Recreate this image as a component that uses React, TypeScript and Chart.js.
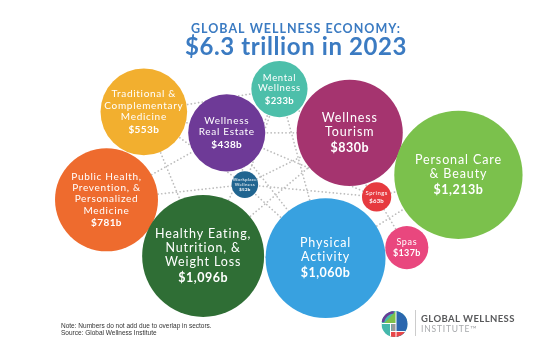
import React, { useEffect, useRef } from "react";
import { Chart, registerables } from "chart.js";

Chart.register(...registerables);

// ---------- data ----------
const categories = [
  "Traditional & Complementary Medicine",
  "Wellness Real Estate",
  "Public Health, Prevention, & Personalized Medicine",
  "Healthy Eating, Nutrition, & Weight Loss",
  "Workplace Wellness",
  "Mental Wellness",
  "Wellness Tourism",
  "Personal Care & Beauty",
  "Springs",
  "Spas",
  "Physical Activity",
];
const labelLines: string[][] = [
  ["Traditional &", "Complementary", "Medicine"],
  ["Wellness", "Real Estate"],
  ["Public Health,", "Prevention, &", "Personalized", "Medicine"],
  ["Healthy Eating,", "Nutrition, &", "Weight Loss"],
  ["Workplace", "Wellness"],
  ["Mental", "Wellness"],
  ["Wellness", "Tourism"],
  ["Personal Care", "& Beauty"],
  ["Springs"],
  ["Spas"],
  ["Physical", "Activity"],
];
// market size, US$ billions (2023)
const valuesB = [553, 438, 781, 1096, 52, 233, 830, 1213, 63, 137, 1060];
// bubble layout positions (0-100 layout units, y pointing up)
const posX = [26.2, 41.3, 19.4, 37.0, 44.6, 50.9, 63.7, 83.5, 68.6, 74.1, 59.3];
const posY = [69.1, 63.3, 44.8, 29.3, 49.0, 75.4, 63.3, 51.7, 45.6, 31.6, 28.7];
// background dotted network (pairs of category indices)
const links: [number, number][] = [
  [0, 5], [0, 4], [0, 1], [0, 3], [2, 4], [2, 1], [2, 3], [1, 8], [1, 10],
  [1, 6], [5, 10], [5, 3], [5, 4], [6, 3], [6, 4], [8, 9], [8, 7], [9, 10],
  [3, 10], [4, 8], [4, 10], [7, 10], [5, 8],
];
const titleLine1 = "GLOBAL WELLNESS ECONOMY:";
const titleLine2 = "$6.3 trillion in 2023";
const noteLines = [
  "Note: Numbers do not add due to overlap in sectors.",
  "Source: Global Wellness Institute",
];
const brandLine1 = "GLOBAL WELLNESS";
const brandLine2 = "INSTITUTE\u2122";

// ---------- styles ----------
const colors = [
  "#F2AF2F", "#6E3A97", "#EE6B2E", "#2F6E35", "#216590", "#4DBFAA",
  "#A5346F", "#7BC14C", "#E63A3F", "#E9477E", "#38A1E0",
];
const labelFontSizes = [10, 10, 10, 12.5, 4.5, 9.5, 12.5, 12.5, 6, 9, 12.5];
const RADIUS_PER_SQRT = 1.842;
const W = 549;
const H = 362;
const LABEL_FONT = "Lato, 'Noto Sans', sans-serif";
const TITLE_BLUE = "#3B7BC2";

const fmt = (v: number) => "$" + v.toLocaleString("en-US") + "b";

const bubbleLabelPlugin = {
  id: "bubbleLabels",
  afterDatasetsDraw(chart: any) {
    const meta = chart.getDatasetMeta(0);
    const ctx = chart.ctx as CanvasRenderingContext2D;
    ctx.save();
    ctx.fillStyle = "#ffffff";
    ctx.textAlign = "center";
    ctx.textBaseline = "middle";
    meta.data.forEach((el: any, i: number) => {
      const fs = labelFontSizes[i];
      const lines = labelLines[i];
      const lh = fs * 1.13;
      const gap = fs * 1.28;
      const total = (lines.length - 1) * lh + gap;
      const y0 = el.y - total / 2;
      (ctx as any).letterSpacing = fs * 0.07 + "px";
      ctx.font = `400 ${fs}px ${LABEL_FONT}`;
      lines.forEach((l, j) => ctx.fillText(l, el.x, y0 + j * lh));
      (ctx as any).letterSpacing = fs * 0.04 + "px";
      ctx.font = `700 ${fs}px ${LABEL_FONT}`;
      ctx.fillText(fmt(valuesB[i]), el.x, y0 + (lines.length - 1) * lh + gap);
    });
    (ctx as any).letterSpacing = "0px";
    ctx.restore();
  },
};

const decorPlugin = {
  id: "decor",
  afterDraw(chart: any) {
    const ctx = chart.ctx as CanvasRenderingContext2D;
    ctx.save();
    // title
    ctx.textAlign = "center";
    ctx.textBaseline = "alphabetic";
    ctx.fillStyle = TITLE_BLUE;
    (ctx as any).letterSpacing = "1px";
    ctx.font = "700 12.5px Lato, sans-serif";
    ctx.fillText(titleLine1, 296, 33);
    (ctx as any).letterSpacing = "0.6px";
    ctx.font = "700 24px Lato, sans-serif";
    ctx.fillText(titleLine2, 296, 55);
    (ctx as any).letterSpacing = "0px";

    // notes
    ctx.textAlign = "left";
    ctx.fillStyle = "#333333";
    ctx.font = "6.5px 'Liberation Sans', Arial, sans-serif";
    noteLines.forEach((t, i) => ctx.fillText(t, 61, 328 + i * 7));

    // logo
    const cx = 394.5, cy = 324, r = 13;
    ctx.save();
    ctx.beginPath();
    ctx.arc(cx, cy, r, 0, Math.PI * 2);
    ctx.clip();
    ctx.fillStyle = "#45B8AC";
    ctx.fillRect(cx - r, cy - r, 2 * r, 2 * r);
    ctx.fillStyle = "#2B67AE";
    ctx.fillRect(cx + 1.5, cy - r, r, 2 * r);
    ctx.fillStyle = "#7DC04B";
    ctx.beginPath();
    ctx.moveTo(cx - 10, cy - 1);
    ctx.lineTo(cx + 1.5, cy - r);
    ctx.lineTo(cx + 1.5, cy - 1);
    ctx.closePath();
    ctx.fill();
    ctx.strokeStyle = "#6A3B97";
    ctx.lineWidth = 3;
    ctx.beginPath();
    ctx.arc(cx, cy, r - 1, Math.PI * 1.05, Math.PI * 1.48);
    ctx.stroke();
    ctx.fillStyle = "#E8474A";
    ctx.fillRect(cx - 4, cy + 8, 2 * r, 6);
    ctx.fillStyle = "#9A9A9A";
    ctx.fillRect(cx - 3, cy, 4.5, 7);
    ctx.strokeStyle = "#ffffff";
    ctx.lineWidth = 1;
    ctx.beginPath();
    ctx.moveTo(cx + 1.5, cy - r); ctx.lineTo(cx + 1.5, cy + r);
    ctx.moveTo(cx - r, cy - 0.5); ctx.lineTo(cx + 1.5, cy - 0.5);
    ctx.moveTo(cx - 4, cy - 0.5); ctx.lineTo(cx - 4, cy + r);
    ctx.moveTo(cx - 4, cy + 7.5); ctx.lineTo(cx + r, cy + 7.5);
    ctx.stroke();
    ctx.restore();
    ctx.strokeStyle = "#cccccc";
    ctx.lineWidth = 1;
    ctx.beginPath();
    ctx.moveTo(415.5, 310);
    ctx.lineTo(415.5, 336);
    ctx.stroke();
    ctx.fillStyle = "#58595B";
    ctx.font = "700 9.5px Lato, sans-serif";
    (ctx as any).letterSpacing = "0.4px";
    ctx.fillText(brandLine1, 421, 322);
    ctx.fillStyle = "#A7A9AC";
    ctx.font = "400 8.5px Lato, sans-serif";
    (ctx as any).letterSpacing = "0.8px";
    ctx.fillText(brandLine2, 421, 332);
    (ctx as any).letterSpacing = "0px";
    ctx.restore();
  },
};

export default function App() {
  const ref = useRef<HTMLCanvasElement | null>(null);
  useEffect(() => {
    if (!ref.current) return;
    const bubbleData = valuesB.map((v, i) => ({
      x: posX[i],
      y: posY[i],
      r: RADIUS_PER_SQRT * Math.sqrt(v),
    }));
    const linkSets = links.map(([a, b]) => ({
      type: "line" as const,
      label: `${categories[a]} – ${categories[b]}`,
      data: [
        { x: posX[a], y: posY[a] },
        { x: posX[b], y: posY[b] },
      ],
      borderColor: "#bdbdbd",
      borderWidth: 1.7,
      borderDash: [0.1, 3.6],
      borderCapStyle: "round" as const,
      pointRadius: 0,
      fill: false,
      tension: 0,
      order: 2,
    }));
    const chart = new Chart(ref.current, {
      type: "bubble",
      data: {
        datasets: [
          {
            label: "Wellness economy sectors",
            data: bubbleData,
            backgroundColor: colors,
            borderWidth: 0,
            hoverBorderWidth: 0,
            order: 1,
          } as any,
          ...(linkSets as any[]),
        ],
      },
      options: {
        responsive: false,
        animation: false,
        events: [],
        layout: { padding: 0, autoPadding: false } as any,
        scales: {
          x: { type: "linear", min: 0, max: 100, display: false },
          y: { type: "linear", min: 0, max: 100, display: false },
        },
        plugins: {
          legend: { display: false },
          tooltip: { enabled: false },
          title: { display: false },
        },
      },
      plugins: [bubbleLabelPlugin, decorPlugin],
    });
    return () => chart.destroy();
  }, []);
  return (
    <div style={{ position: "absolute", left: 0, top: 0, width: W, height: H, background: "#fff" }}>
      <canvas ref={ref} width={W} height={H} style={{ display: "block" }} />
    </div>
  );
}
